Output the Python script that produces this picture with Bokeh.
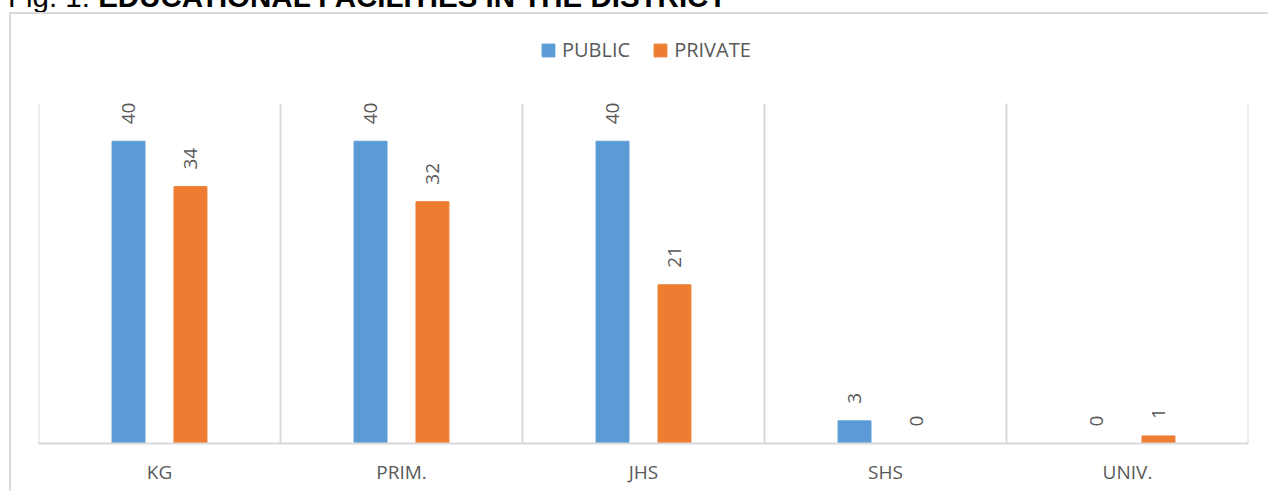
import math
from bokeh.plotting import figure
from bokeh.models import (ColumnDataSource, FactorRange, Range1d, Legend, LegendItem, Div)
from bokeh.transform import dodge
from bokeh.layouts import column
from bokeh.core.properties import value
from bokeh.embed import file_html
from bokeh.resources import INLINE

# ---------------- data ----------------
categories = ["KG", "PRIM.", "JHS", "SHS", "UNIV."]
public = [40, 40, 40, 3, 0]
private = [34, 32, 21, 0, 1]
series_names = ["PUBLIC", "PRIVATE"]
title_prefix = "Fig. 1: "
title_main = "EDUCATIONAL FACILITIES IN THE DISTRICT"
y_max = 45          # top of the plot area (value axis maximum)

# ---------------- style / layout ----------------
BLUE = "#5B9BD5"
ORANGE = "#ED7D31"
GRID = "#D9D9D9"
TEXT = "#595959"
FONT = "Open Sans"
OFF = 0.128
BW = 0.136
FRAME_H = 429        # px from top of chart area to the category axis
PLOT_H = 340         # px height of the plot area proper
y_top = y_max * FRAME_H / PLOT_H   # extra headroom holds the legend

src = ColumnDataSource(dict(
    cat=categories, public=public, private=private,
    public_lbl=[str(v) for v in public],
    private_lbl=[str(v) for v in private],
))
sep_src = ColumnDataSource(dict(cat=categories, y0=[0] * len(categories), y1=[y_max] * len(categories)))
sep_last = ColumnDataSource(dict(cat=categories[-1:], y0=[0], y1=[y_max]))

p = figure(x_range=FactorRange(*categories), y_range=Range1d(0, y_top),
           width=1259, height=479, output_backend="svg", toolbar_location=None,
           min_border_left=27, min_border_right=22, min_border_top=0, min_border_bottom=50,
           margin=(0, 0, 0, 9))
p.styles = {"border-left": f"2px solid {GRID}", "border-top": f"2px solid {GRID}"}

# category separators
for s, d in ((sep_src, -0.5), (sep_last, 0.5)):
    p.segment(x0=dodge("cat", d, range=p.x_range), y0="y0",
              x1=dodge("cat", d, range=p.x_range), y1="y1",
              source=s, line_color=GRID, line_width=2)

rb = p.vbar(x=dodge("cat", -OFF, range=p.x_range), top="public", width=BW, source=src,
            fill_color=BLUE, line_color=BLUE)
ro = p.vbar(x=dodge("cat", OFF, range=p.x_range), top="private", width=BW, source=src,
            fill_color=ORANGE, line_color=ORANGE)

for col, lbl, d in (("public", "public_lbl", -OFF), ("private", "private_lbl", OFF)):
    p.text(x=dodge("cat", d, range=p.x_range), y=col, text=lbl, source=src,
           angle=math.pi / 2, text_align="left", text_baseline="middle",
           y_offset=-17, text_font=value(FONT), text_font_size="19px", text_color=TEXT)

p.yaxis.visible = False
p.xgrid.grid_line_color = None
p.ygrid.grid_line_color = None
p.outline_line_color = None
p.xaxis.axis_line_color = GRID
p.xaxis.axis_line_width = 2
p.xaxis.major_tick_line_color = None
p.xaxis.minor_tick_line_color = None
p.xaxis.major_tick_out = 0
p.xaxis.major_tick_in = 0
p.xaxis.major_label_text_font = FONT
p.xaxis.major_label_text_font_size = "19px"
p.xaxis.major_label_text_color = TEXT
p.xaxis.major_label_standoff = 15

legend = Legend(items=[LegendItem(label=series_names[0], renderers=[rb]),
                       LegendItem(label=series_names[1], renderers=[ro])],
                orientation="horizontal", location=(502, 380),
                border_line_color=None, background_fill_alpha=0,
                label_text_font=FONT, label_text_font_size="20px", label_text_color=TEXT,
                glyph_width=16, glyph_height=16, label_standoff=6, spacing=22,
                padding=0, margin=0)
p.add_layout(legend)

title = Div(text=(f'<div style="font-family:\'Liberation Sans\',Arial,sans-serif;font-size:29.5px;'
                  f'line-height:29px;color:#000;white-space:nowrap">{title_prefix}'
                  f'<b>{title_main}</b></div>'),
            width=1000, height=30, margin=(-18, 0, 0, 8))

layout = column(title, p)
open("out.html", "w").write(file_html(layout, INLINE))
